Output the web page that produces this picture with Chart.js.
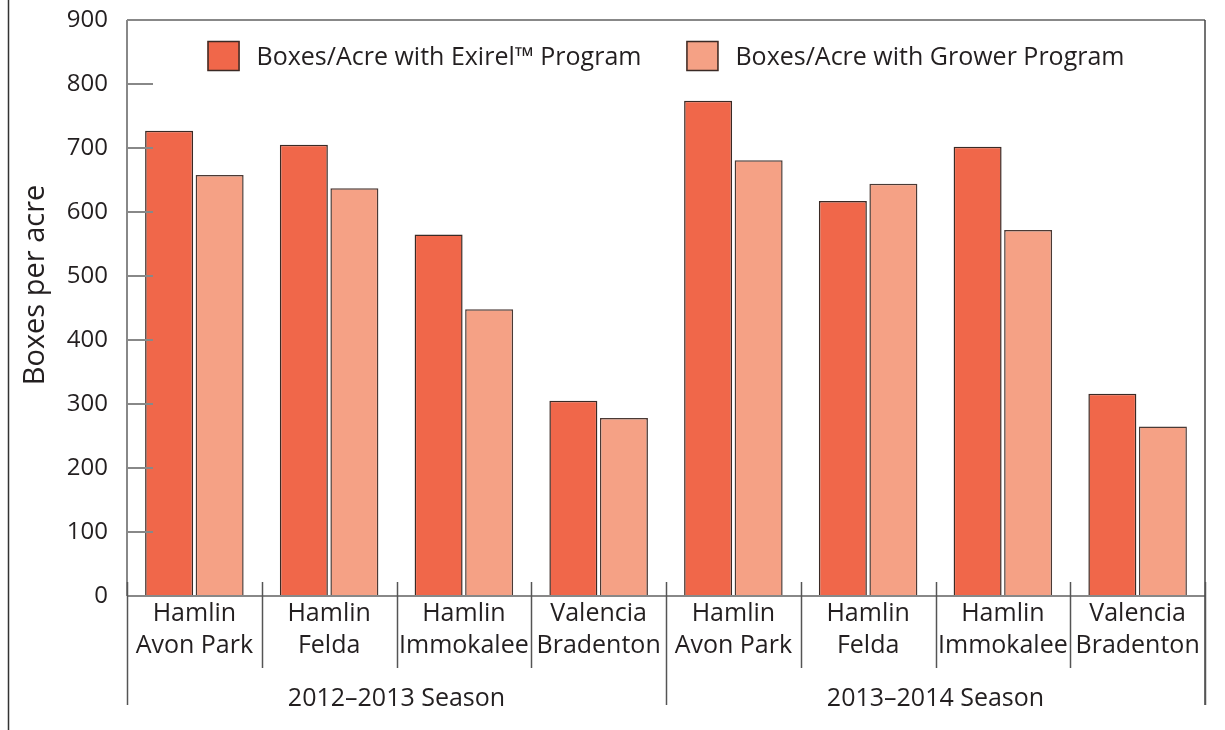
<!doctype html>
<html>
<head>
<meta charset="utf-8">
<title>Boxes per acre</title>
<script src="https://cdn.jsdelivr.net/npm/chart.js@4.4.1/dist/chart.umd.min.js"></script>
<style>
  html, body { margin: 0; padding: 0; background: #fff; }
  #wrap { width: 1225px; height: 730px; }
</style>
</head>
<body>
<div id="wrap"><canvas id="canvas" width="1225" height="730"></canvas></div>
<script>
var categories = [
  ['Hamlin', 'Avon Park'], ['Hamlin', 'Felda'], ['Hamlin', 'Immokalee'], ['Valencia', 'Bradenton'],
  ['Hamlin', 'Avon Park'], ['Hamlin', 'Felda'], ['Hamlin', 'Immokalee'], ['Valencia', 'Bradenton']
];
var seasons = ['2012\u20132013 Season', '2013\u20132014 Season'];
var exirel = [727, 705, 565, 305, 774, 617, 702, 316];
var grower = [658, 637, 448, 278, 681, 644, 572, 265];
var seriesNames = ['Boxes/Acre with Exirel\u2122 Program', 'Boxes/Acre with Grower Program'];
var yTitle = 'Boxes per acre';

var FONT = "'Open Sans', 'DejaVu Sans', sans-serif";
var TEXT = '#231f20';

// frame, inward ticks, separators, season labels, axis title and the inner legend
var decor = {
  id: 'decor',
  afterDraw: function(chart) {
    var ctx = chart.ctx, a = chart.chartArea, y = chart.scales.y;
    var n = categories.length, per = n / seasons.length;
    var w = (a.right - a.left) / n;
    ctx.save();

    // outer left rule
    ctx.strokeStyle = '#333';
    ctx.lineWidth = 1.5;
    ctx.beginPath(); ctx.moveTo(8.5, 0); ctx.lineTo(8.5, chart.height); ctx.stroke();

    // top border and axes
    ctx.strokeStyle = '#888';
    ctx.lineWidth = 2;
    ctx.beginPath();
    ctx.moveTo(a.left, a.top); ctx.lineTo(a.right, a.top);
    ctx.moveTo(a.left, a.bottom); ctx.lineTo(a.right, a.bottom);
    ctx.moveTo(a.left, a.top); ctx.lineTo(a.left, a.bottom);
    ctx.stroke();

    // inward y ticks
    y.ticks.forEach(function(t) {
      var py = y.getPixelForValue(t.value);
      ctx.beginPath(); ctx.moveTo(a.left, py); ctx.lineTo(a.left + 26, py); ctx.stroke();
    });

    // right border
    ctx.strokeStyle = '#444';
    ctx.lineWidth = 1.5;
    ctx.beginPath(); ctx.moveTo(a.right, a.top); ctx.lineTo(a.right, a.bottom + 109); ctx.stroke();

    // separators
    ctx.strokeStyle = '#555';
    ctx.lineWidth = 1.5;
    for (var i = 0; i <= n; i++) {
      var x = Math.round(a.left + i * w) + 0.5;
      var bottom = (i % per === 0) ? a.bottom + 109 : a.bottom + 72;
      ctx.beginPath(); ctx.moveTo(x, a.bottom - 14); ctx.lineTo(x, bottom); ctx.stroke();
    }

    // season labels
    ctx.fillStyle = TEXT;
    ctx.font = '25px ' + FONT;
    ctx.textAlign = 'center';
    ctx.textBaseline = 'middle';
    seasons.forEach(function(s, k) {
      var cx = a.left + (k + 0.5) * per * w;
      ctx.fillText(s, cx, a.bottom + 103);
    });

    // y axis title
    ctx.save();
    ctx.translate(36, (a.top + a.bottom) / 2 - 23);
    ctx.rotate(-Math.PI / 2);
    ctx.font = '29px ' + FONT;
    ctx.fillText(yTitle, 0, 0);
    ctx.restore();

    // legend inside plot
    var ds = chart.data.datasets;
    ctx.font = '25px ' + FONT;
    var boxW = 32, boxH = 30, gapText = 17, gapItem = 45;
    var widths = ds.map(function(d) { return boxW + gapText + ctx.measureText(d.label).width; });
    var total = widths.reduce(function(s, v) { return s + v; }, 0) + gapItem * (ds.length - 1);
    var lx = (a.left + a.right) / 2 - total / 2;
    var top = a.top + 21;
    ctx.textAlign = 'left';
    ds.forEach(function(d, k) {
      ctx.fillStyle = d.backgroundColor;
      ctx.fillRect(lx, top, boxW, boxH);
      ctx.strokeStyle = '#3a2a25';
      ctx.lineWidth = 1.5;
      ctx.strokeRect(lx + 0.5, top + 0.5, boxW - 1, boxH - 1);
      ctx.fillStyle = TEXT;
      ctx.fillText(d.label, lx + boxW + gapText, top + boxH / 2 + 2);
      lx += widths[k] + gapItem;
    });
    ctx.restore();
  }
};

new Chart(document.getElementById('canvas'), {
  type: 'bar',
  data: {
    labels: categories,
    datasets: [
      { label: seriesNames[0], data: exirel, backgroundColor: '#f0674a', borderColor: '#3a2a25', borderWidth: 1.5 },
      { label: seriesNames[1], data: grower, backgroundColor: '#f5a185', borderColor: '#4a3a35', borderWidth: 1.5 }
    ]
  },
  options: {
    responsive: false,
    animation: false,
    layout: { padding: { left: 0, top: 20, right: 20, bottom: 0 } },
    datasets: { bar: { categoryPercentage: 0.75, barPercentage: 0.95 } },
    plugins: {
      legend: { display: false },
      tooltip: { enabled: false }
    },
    scales: {
      x: {
        afterFit: function(s) { s.height = 134; },
        grid: { display: false, drawTicks: false },
        border: { display: false },
        ticks: { color: TEXT, font: { family: FONT, size: 25, lineHeight: 1.28 }, padding: 2, maxRotation: 0, autoSkip: false }
      },
      y: {
        min: 0, max: 900,
        afterFit: function(s) { s.width = 127; s.paddingTop = 0; s.paddingBottom = 0; },
        grid: { display: false, drawTicks: false },
        border: { display: false },
        ticks: { stepSize: 100, color: TEXT, font: { family: FONT, size: 24 }, padding: 19 }
      }
    }
  },
  plugins: [decor]
});
</script>
</body>
</html>
